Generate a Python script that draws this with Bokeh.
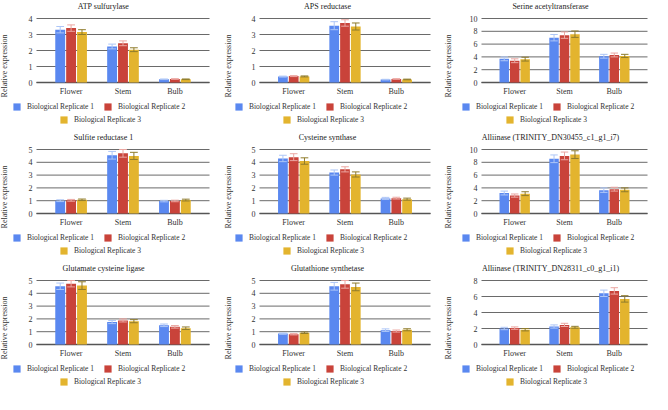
from bokeh.plotting import figure
from bokeh.layouts import gridplot
from bokeh.models import (ColumnDataSource, Range1d, FixedTicker, Legend, LegendItem, Label)
from bokeh.transform import dodge
from bokeh.embed import file_html
from bokeh.resources import INLINE

categories = ["Flower", "Stem", "Bulb"]
replicates = ["Biological Replicate 1", "Biological Replicate 2", "Biological Replicate 3"]

titles = [
    "ATP sulfurylase", "APS reductase", "Serine acetyltransferase",
    "Sulfite reductase 1", "Cysteine synthase", "Alliinase (TRINITY_DN30455_c1_g1_i7)",
    "Glutamate cysteine ligase", "Glutathione synthetase", "Alliinase (TRINITY_DN28311_c0_g1_i1)",
]
y_max = [4, 4, 10, 5, 5, 10, 5, 5, 8]
y_step = [1, 1, 2, 1, 1, 2, 1, 1, 2]

# values: [replicate][Flower, Stem, Bulb]
atp_sulfurylase = [[3.30, 2.25, 0.20], [3.40, 2.45, 0.22], [3.15, 2.05, 0.20]]
atp_sulfurylase_err = [[0.20, 0.15, 0.02], [0.20, 0.15, 0.02], [0.15, 0.12, 0.02]]
aps_reductase = [[0.37, 3.55, 0.18], [0.40, 3.72, 0.22], [0.38, 3.50, 0.19]]
aps_reductase_err = [[0.03, 0.25, 0.02], [0.03, 0.20, 0.02], [0.03, 0.22, 0.02]]
serine_acetyltransferase = [[3.70, 7.00, 4.10], [3.40, 7.40, 4.30], [3.65, 7.55, 4.15]]
serine_acetyltransferase_err = [[0.30, 0.50, 0.30], [0.30, 0.50, 0.30], [0.30, 0.50, 0.25]]
sulfite_reductase = [[1.00, 4.55, 0.97], [1.03, 4.70, 0.98], [1.07, 4.50, 1.05]]
sulfite_reductase_err = [[0.07, 0.30, 0.06], [0.07, 0.30, 0.06], [0.06, 0.28, 0.07]]
cysteine_synthase = [[4.30, 3.20, 1.18], [4.40, 3.45, 1.20], [4.10, 3.05, 1.12]]
cysteine_synthase_err = [[0.25, 0.20, 0.08], [0.27, 0.20, 0.07], [0.25, 0.20, 0.08]]
alliinase_30455 = [[3.20, 8.55, 3.65], [2.80, 9.00, 3.80], [3.10, 9.20, 3.70]]
alliinase_30455_err = [[0.30, 0.60, 0.35], [0.25, 0.60, 0.30], [0.30, 0.60, 0.30]]
glutamate_cysteine_ligase = [[4.55, 1.75, 1.50], [4.75, 1.88, 1.38], [4.60, 1.82, 1.27]]
glutamate_cysteine_ligase_err = [[0.25, 0.12, 0.10], [0.25, 0.12, 0.10], [0.30, 0.12, 0.10]]
glutathione_synthetase = [[0.85, 4.55, 1.12], [0.80, 4.70, 1.05], [0.92, 4.50, 1.15]]
glutathione_synthetase_err = [[0.05, 0.30, 0.10], [0.05, 0.30, 0.08], [0.06, 0.30, 0.08]]
alliinase_28311 = [[2.00, 2.25, 6.40], [2.05, 2.45, 6.70], [1.85, 2.15, 5.70]]
alliinase_28311_err = [[0.15, 0.20, 0.40], [0.15, 0.20, 0.40], [0.15, 0.12, 0.40]]

panel_means = [atp_sulfurylase, aps_reductase, serine_acetyltransferase,
               sulfite_reductase, cysteine_synthase, alliinase_30455,
               glutamate_cysteine_ligase, glutathione_synthetase, alliinase_28311]
panel_errs = [atp_sulfurylase_err, aps_reductase_err, serine_acetyltransferase_err,
              sulfite_reductase_err, cysteine_synthase_err, alliinase_30455_err,
              glutamate_cysteine_ligase_err, glutathione_synthetase_err, alliinase_28311_err]

bar_colors = ["#5a88f0", "#c9433a", "#e3b42e"]
err_colors = ["#adc6f7", "#eba7a2", "#8f7c2c"]
FONT = "Liberation Serif"
W, H = 217, 131
TOP_PX, ZERO_PX = 18, 82          # pixel rows of the top gridline and of zero
col_left = [36, 42, 47]           # pixel column where gridlines start
col_right = [8, 4, 4]
col_standoff = [17, 16, 18]
title_center = [103, 110, 116]
leg1_x = [12, 17, 27]
leg2_x = [59, 65, 71]
offsets = [-0.21, 0.0, 0.21]
PAD = 0.1665


def make_panel(i):
    col = i % 3
    means, errs = panel_means[i], panel_errs[i]
    ymax, step = y_max[i], y_step[i]
    ticks = list(range(0, ymax + 1, step))

    upy = (ZERO_PX - TOP_PX) / ymax
    y_end = ymax + TOP_PX / upy
    y_start = -(H - ZERO_PX) / upy
    n = len(categories)
    u = (W - col_left[col] - col_right[col]) / (n + 2 * PAD)
    x_start = -0.5 - PAD - col_left[col] / u
    x_end = x_start + W / u
    gx0 = x_start + col_left[col] / u
    gx1 = x_start + (W - col_right[col]) / u

    p = figure(width=W, height=H, title=None,
               x_range=Range1d(x_start, x_end), y_range=Range1d(y_start, y_end),
               output_backend="svg", toolbar_location=None, min_border=0)
    p.outline_line_color = None
    p.grid.visible = False

    # gridlines
    gsrc = ColumnDataSource({"y": ticks, "x0": [gx0] * len(ticks), "x1": [gx1] * len(ticks)})
    p.segment(x0="x0", y0="y", x1="x1", y1="y", source=gsrc, line_color="#6a6a6a", line_width=1)
    zsrc = ColumnDataSource({"y": [0], "x0": [gx0], "x1": [gx1]})
    p.segment(x0="x0", y0="y", x1="x1", y1="y", source=zsrc, line_color="#555555", line_width=1.4)

    data = {"xi": list(range(n))}
    for r in range(3):
        data[f"m{r}"] = means[r]
        data[f"lo{r}"] = [m - e for m, e in zip(means[r], errs[r])]
        data[f"hi{r}"] = [m + e for m, e in zip(means[r], errs[r])]
    src = ColumnDataSource(data)

    renderers = []
    for r in range(3):
        rb = p.vbar(x=dodge("xi", offsets[r]), top=f"m{r}", bottom=0, width=0.19,
                    source=src, fill_color=bar_colors[r], line_color=None)
        renderers.append(rb)
    for r in range(3):
        off = offsets[r]
        ec = err_colors[r]
        p.segment(x0=dodge("xi", off), y0=f"lo{r}", x1=dodge("xi", off), y1=f"hi{r}",
                  source=src, line_color=ec, line_width=1)
        for yk in (f"lo{r}", f"hi{r}"):
            p.segment(x0=dodge("xi", off - 0.075), y0=yk, x1=dodge("xi", off + 0.075), y1=yk,
                      source=src, line_color=ec, line_width=1)

    xa, ya = p.xaxis[0], p.yaxis[0]
    xa.ticker = FixedTicker(ticks=list(range(n)))
    xa.major_label_overrides = {k: c for k, c in enumerate(categories)}
    xa.fixed_location = 0
    ya.ticker = FixedTicker(ticks=ticks)
    ya.fixed_location = gx0
    for ax in (xa, ya):
        ax.axis_line_color = None
        ax.major_tick_line_color = None
        ax.minor_tick_line_color = None
        ax.major_tick_out = 0
        ax.major_tick_in = 0
        ax.major_label_text_font = FONT
        ax.major_label_text_font_size = "8px"
        ax.major_label_text_color = "#333333"
        ax.major_label_standoff = 4
    ya.axis_label = "Relative expression"
    ya.axis_label_text_font = FONT
    ya.axis_label_text_font_size = "8px"
    ya.axis_label_text_font_style = "normal"
    ya.axis_label_text_color = "#333333"
    ya.axis_label_standoff = col_standoff[col] - (4 if ymax >= 10 else 0)

    p.add_layout(Label(x=x_start + title_center[col] / u, y=y_end - 5.5 / upy,
                       text=titles[i], text_align="center", text_baseline="middle",
                       text_font=FONT, text_font_size="8px", text_color="#222222"))

    leg_style = dict(label_text_font=FONT, label_text_font_size="7.5px",
                     label_text_color="#333333", glyph_width=9, glyph_height=9,
                     label_standoff=6, label_height=10, padding=2, margin=0,
                     border_line_color=None, background_fill_alpha=0,
                     orientation="horizontal")
    leg1 = Legend(items=[LegendItem(label=replicates[0], renderers=[renderers[0]]),
                         LegendItem(label=replicates[1], renderers=[renderers[1]])],
                  spacing=9, location=(leg1_x[col], 20), **leg_style)
    leg2 = Legend(items=[LegendItem(label=replicates[2], renderers=[renderers[2]])],
                  location=(leg2_x[col], 7), **leg_style)
    p.add_layout(leg1)
    p.add_layout(leg2)
    return p


figs = [make_panel(i) for i in range(9)]
grid = gridplot(figs, ncols=3, toolbar_location=None)
open("out.html", "w").write(file_html(grid, INLINE))
